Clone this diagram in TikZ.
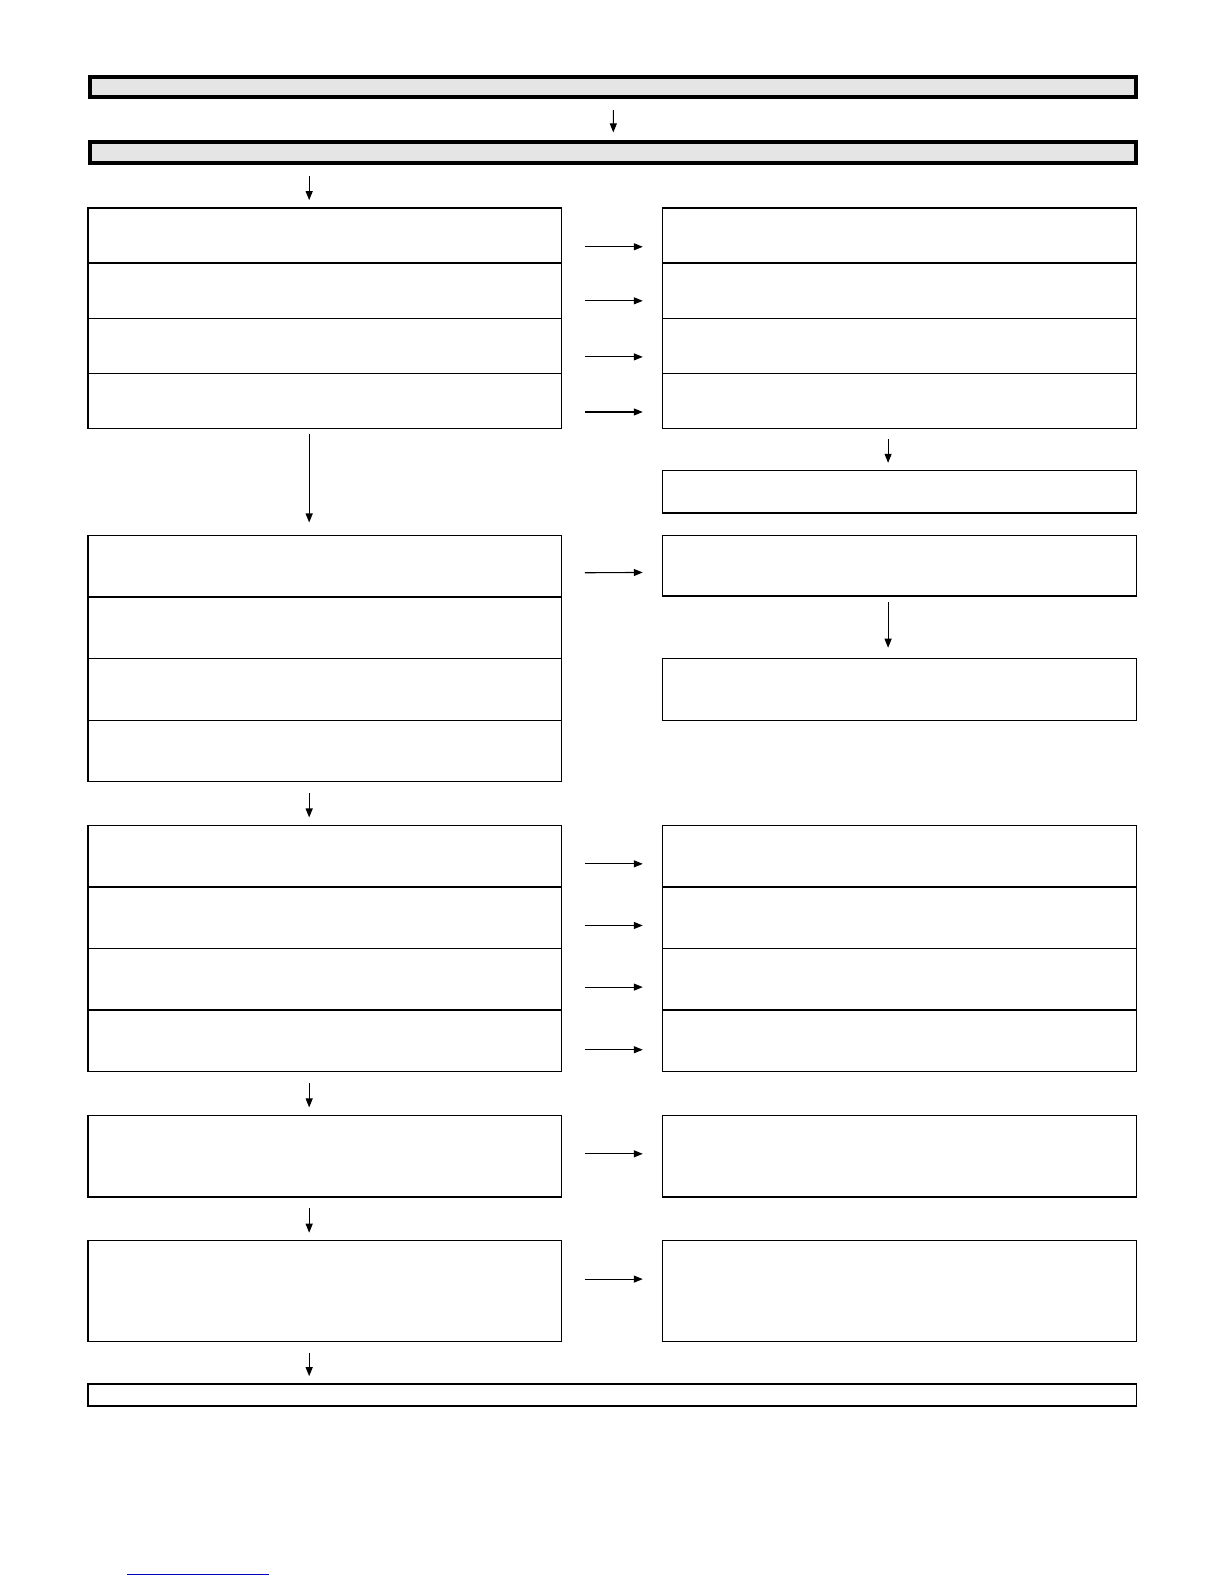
\documentclass[tikz,border=0pt]{standalone}
\usetikzlibrary{arrows.meta}
\begin{document}
\begin{tikzpicture}[x=1bp,y=-1bp,scale=1.0101]
        \tikzstyle{header}=[rectangle,draw=black,line width=4bp,fill=black!10,minimum width=1036bp,minimum height=20bp,inner sep=0pt,transform shape]
        \tikzstyle{stepbox}=[rectangle,draw=black,line width=1.3bp,minimum width=469bp,inner sep=0pt,outer sep=0pt,transform shape]
        \tikzstyle{edge}=[draw,line width=1.1bp,-{Triangle[length=9bp,width=7bp]},shorten <=11bp,shorten >=8bp]
        \tikzstyle{side}=[draw,line width=1.1bp,-{Triangle[length=9bp,width=7bp]},shorten <=23bp,shorten >=20bp]
        \useasboundingbox (0,0) rectangle (1211.76,1568.16);
        \begin{scope}
           % headers
           \node [header] (h1) at (607,86) {};
           \node [header] (h2) at (607,151) {};
           % first group
           \node [stepbox,minimum height=54.5bp] (a1) at (321.5,233.25) {};
           \node [stepbox,minimum height=54.5bp] (a2) at (321.5,287.75) {};
           \node [stepbox,minimum height=54.5bp] (a3) at (321.5,342.25) {};
           \node [stepbox,minimum height=54.5bp] (a4) at (321.5,396.75) {};
           \node [stepbox,minimum height=54.5bp] (ar1) at (890.5,233.25) {};
           \node [stepbox,minimum height=54.5bp] (ar2) at (890.5,287.75) {};
           \node [stepbox,minimum height=54.5bp] (ar3) at (890.5,342.25) {};
           \node [stepbox,minimum height=54.5bp] (ar4) at (890.5,396.75) {};
           \node [stepbox,minimum height=42bp] (ar5) at (890.5,487) {};
           % second group
           \node [stepbox,minimum height=61bp] (b1) at (321.5,560.5) {};
           \node [stepbox,minimum height=61bp] (b2) at (321.5,621.5) {};
           \node [stepbox,minimum height=61bp] (b3) at (321.5,682.5) {};
           \node [stepbox,minimum height=61bp] (b4) at (321.5,743.5) {};
           \node [stepbox,minimum height=60bp] (br1) at (890.5,560) {};
           \node [stepbox,minimum height=61bp] (br2) at (890.5,682.5) {};
           % third group
           \node [stepbox,minimum height=61bp] (c1) at (321.5,847.5) {};
           \node [stepbox,minimum height=61bp] (c2) at (321.5,908.5) {};
           \node [stepbox,minimum height=61bp] (c3) at (321.5,969.5) {};
           \node [stepbox,minimum height=61bp] (c4) at (321.5,1030.5) {};
           \node [stepbox,minimum height=61bp] (cr1) at (890.5,847.5) {};
           \node [stepbox,minimum height=61bp] (cr2) at (890.5,908.5) {};
           \node [stepbox,minimum height=61bp] (cr3) at (890.5,969.5) {};
           \node [stepbox,minimum height=61bp] (cr4) at (890.5,1030.5) {};
           % fourth and fifth
           \node [stepbox,minimum height=81bp] (d1) at (321.5,1144.5) {};
           \node [stepbox,minimum height=81bp] (dr1) at (890.5,1144.5) {};
           \node [stepbox,minimum height=100bp] (e1) at (321.5,1278) {};
           \node [stepbox,minimum height=100bp] (er1) at (890.5,1278) {};
           % last
           \node [stepbox,minimum width=1038bp,minimum height=22bp] (f1) at (606,1381) {};
           % down arrows
           \path[edge] (h1) -- (h2);
           \path[edge] ([xshift=-15.5bp]h2.south -| a1.north) -- ([xshift=-15.5bp]a1.north);
           \path[edge,shorten <=6bp,shorten >=13bp] ([xshift=-15.5bp]a4.south) -- ([xshift=-15.5bp]b1.north);
           \path[edge] ([xshift=-15.5bp]b4.south) -- ([xshift=-15.5bp]c1.north);
           \path[edge] ([xshift=-15.5bp]c4.south) -- ([xshift=-15.5bp]d1.north);
           \path[edge] ([xshift=-15.5bp]d1.south) -- ([xshift=-15.5bp]e1.north);
           \path[edge] ([xshift=-15.5bp]e1.south) -- ([xshift=-15.5bp]e1.south |- f1.north);
           \path[edge] ([xshift=-11.5bp]ar4.south) -- ([xshift=-11.5bp]ar5.north);
           \path[edge,shorten <=6bp,shorten >=11bp] ([xshift=-11.5bp]br1.south) -- ([xshift=-11.5bp]br2.north);
           % side arrows
           \path[side] ([yshift=-11bp]a1.east) -- ([yshift=-11bp]ar1.west);
           \path[side] ([yshift=-10bp]a2.east) -- ([yshift=-10bp]ar2.west);
           \path[side] ([yshift=-11bp]a3.east) -- ([yshift=-11bp]ar3.west);
           \path[side] ([yshift=-11bp]a4.east) -- ([yshift=-11bp]ar4.west);
           \path[side] ([yshift=-6.5bp]b1.east) -- ([yshift=-6.5bp]br1.west);
           \path[side] ([yshift=-7.5bp]c1.east) -- ([yshift=-7.5bp]cr1.west);
           \path[side] ([yshift=-7.5bp]c2.east) -- ([yshift=-7.5bp]cr2.west);
           \path[side] ([yshift=-7.5bp]c3.east) -- ([yshift=-7.5bp]cr3.west);
           \path[side] ([yshift=-8.5bp]c4.east) -- ([yshift=-8.5bp]cr4.west);
           \path[side] ([yshift=2.5bp]d1.east) -- ([yshift=2.5bp]dr1.west);
           \path[side] ([yshift=12bp]e1.east) -- ([yshift=12bp]er1.west);
           % blue rule
           \draw[blue!75!black,line width=1.2bp] (126,1559) -- (266,1559);
        \end{scope}
      \end{tikzpicture}
\end{document}
